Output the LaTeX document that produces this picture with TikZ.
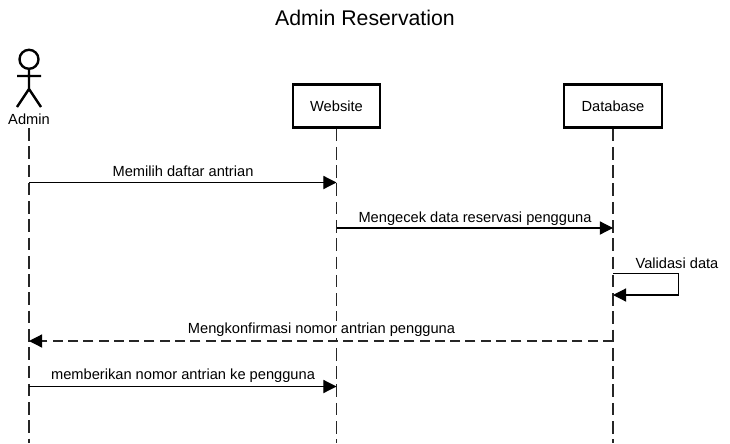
\documentclass[tikz,border=0pt]{standalone}
\usepackage{fontspec}
\setmainfont{Liberation Sans}
\usetikzlibrary{arrows.meta}
\tikzset{
  lifebox/.style={draw,line width=1.3pt,minimum width=49.8pt,minimum height=24.5pt,inner sep=0pt,
    font=\fontsize{8.34}{10}\selectfont,text height=6.4pt,text depth=0pt},
  actorline/.style={line width=1.35pt},
  lifeline/.style={line width=0.8pt,black!85,dash pattern=on 7.2pt off 3.2pt},
  msg/.style={line width=0.7pt,-{Triangle[length=7.5pt,width=7.5pt,black]}},
  reply/.style={msg,black!85,dash pattern=on 5.7pt off 3pt},
  txt/.style={font=\fontsize{8.34}{10}\selectfont,inner sep=0pt,anchor=base}
}
\begin{document}
\begin{tikzpicture}[x=0.02cm,y=-0.02cm]
\useasboundingbox (0,0) rectangle (730,443);
\node[font=\fontsize{12.1}{14}\selectfont,inner sep=0pt,anchor=base] (title) at (365,25) {Admin Reservation};

% actor
\draw[actorline] (29,59.3) circle (9.5);
\draw[actorline] (29,69) -- (29,89) (17,76) -- (41,76) (17,107) -- (29,89) -- (41,107);
\node[txt] (admin) at (29,124) {Admin};

\node[lifebox] (website) at (336.5,106) {Website};
\node[lifebox,minimum width=55.8pt] (database) at (613,106) {Database};

\coordinate (adminstart) at (29,128);
\coordinate (adminend) at (29,443);
\coordinate (websiteend) at (336.5,443);
\coordinate (databaseend) at (613,443);
\draw[lifeline] (adminstart) -- (adminend);
\draw[lifeline] (website.south) -- (websiteend);
\draw[lifeline] (database.south) -- (databaseend);

\coordinate (a1) at (29,182.5);
\coordinate (w1) at (336.5,182.5);
\coordinate (w2) at (336.5,228);
\coordinate (d2) at (613,228);
\coordinate (d3) at (613,273.5);
\coordinate (d4) at (613,295);
\coordinate (d5) at (613,341);
\coordinate (a5) at (29,341);
\coordinate (a6) at (29,386.5);
\coordinate (w6) at (336.5,386.5);

\draw[msg] (a1) -- (w1);
\node[txt] (pilih) at (183,176) {Memilih daftar antrian};

\draw[msg] (w2) -- (d2);
\node[txt] (cek) at (475,222) {Mengecek data reservasi pengguna};

\draw[msg] (d3) -| (678.5,295) -- (d4);
\node[txt] (validasi) at (677,268) {Validasi data};

\node[txt,fill=white,inner sep=1pt] (konfirmasi) at (321.5,333) {Mengkonfirmasi nomor antrian pengguna};
\draw[reply] (d5) -- (a5);

\draw[msg] (a6) -- (w6);
\node[txt] (beri) at (183,379.5) {memberikan nomor antrian ke pengguna};

\end{tikzpicture}
\end{document}
